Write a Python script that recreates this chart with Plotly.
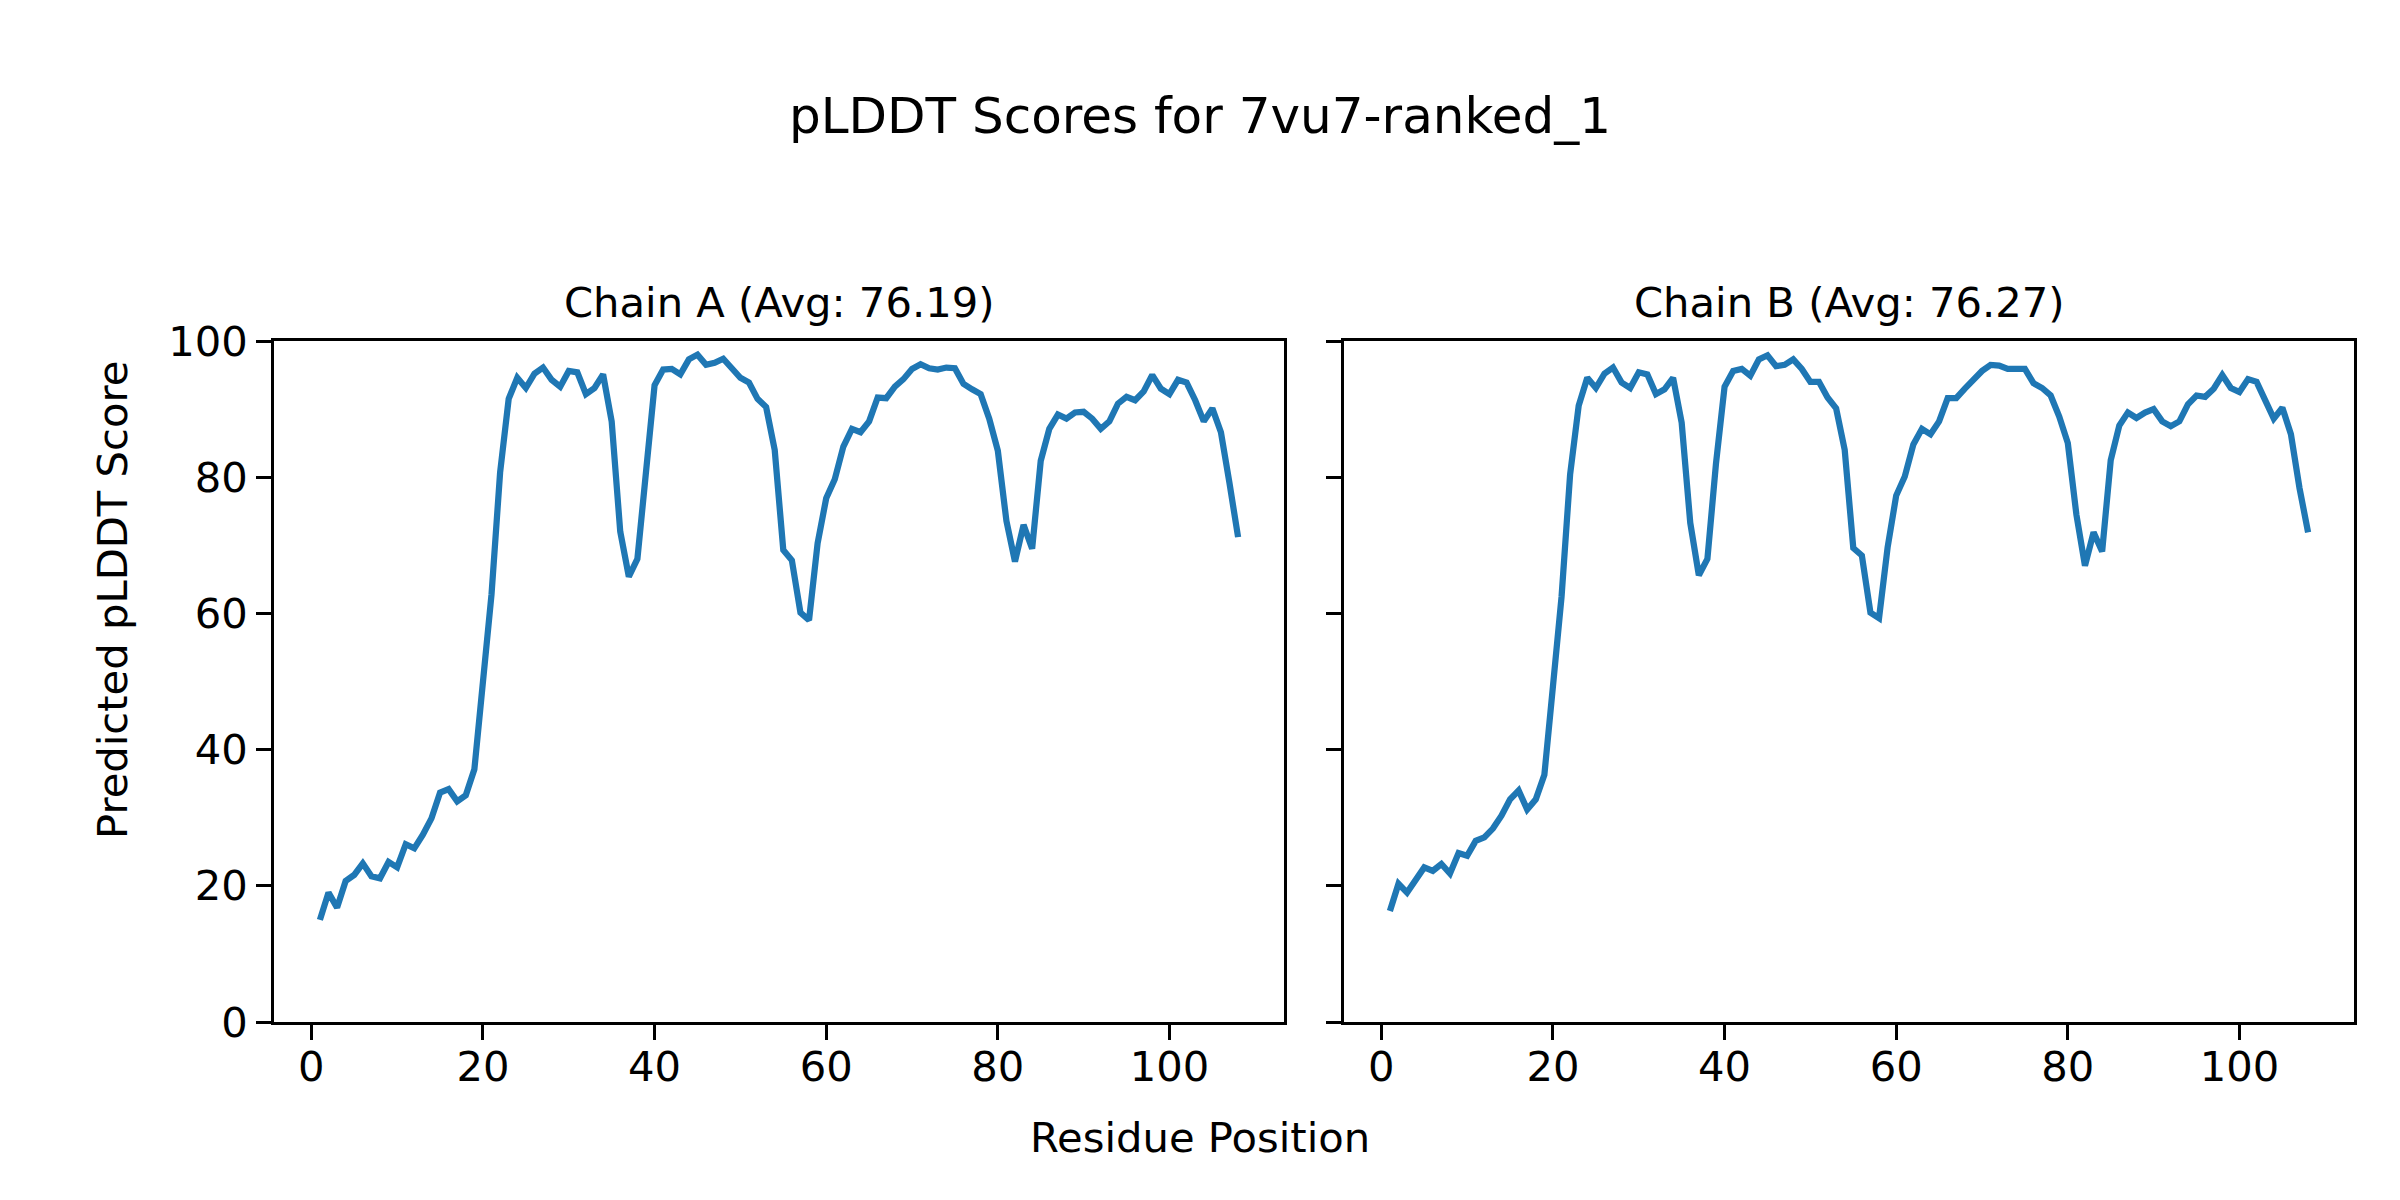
import plotly.graph_objects as go

residues = list(range(1, 109))

chain_a = [
    15.0, 19.0, 16.8, 20.7, 21.6, 23.3, 21.4, 21.1, 23.5, 22.7,
    26.1, 25.5, 27.5, 29.9, 33.7, 34.2, 32.4, 33.3, 37.1, 49.8,
    62.8, 80.7, 91.5, 94.6, 93.1, 95.2, 96.1, 94.3, 93.3, 95.6,
    95.4, 92.2, 93.1, 95.1, 88.2, 72.0, 65.4, 68.0, 82.0, 93.5,
    95.8, 95.9, 95.1, 97.3, 98.0, 96.5, 96.8, 97.4, 96.0, 94.6,
    93.9, 91.5, 90.3, 84.0, 69.3, 67.8, 60.1, 59.0, 70.3, 76.9,
    79.7, 84.5, 87.1, 86.6, 88.2, 91.7, 91.6, 93.3, 94.4, 95.9,
    96.6, 96.0, 95.8, 96.1, 96.0, 93.7, 92.9, 92.2, 88.6, 83.9,
    73.6, 67.6, 73.0, 69.5, 82.4, 87.1, 89.2, 88.6, 89.5, 89.6,
    88.6, 87.1, 88.2, 90.8, 91.8, 91.3, 92.6, 95.0, 93.0, 92.2,
    94.3, 93.9, 91.3, 88.2, 90.1, 86.6, 79.1, 71.2,
]

chain_b = [
    16.3, 20.3, 19.0, 21.0, 22.7, 22.2, 23.2, 21.8, 24.8, 24.4,
    26.6, 27.1, 28.4, 30.3, 32.7, 34.0, 31.2, 32.7, 36.3, 49.3,
    62.4, 80.4, 90.5, 94.6, 93.1, 95.2, 96.1, 93.9, 93.1, 95.4,
    95.1, 92.2, 92.9, 94.6, 88.0, 73.3, 65.6, 68.0, 82.0, 93.3,
    95.6, 95.9, 94.9, 97.3, 97.9, 96.3, 96.5, 97.3, 95.9, 94.0,
    94.0, 91.7, 90.1, 84.0, 69.6, 68.5, 60.1, 59.3, 69.7, 77.3,
    80.1, 84.8, 87.1, 86.3, 88.2, 91.6, 91.6, 93.0, 94.4, 95.6,
    96.5, 96.4, 95.9, 95.9, 95.9, 93.8, 93.1, 92.0, 88.9, 85.0,
    74.5, 67.0, 71.9, 69.1, 82.5, 87.6, 89.5, 88.7, 89.5, 90.0,
    88.2, 87.5, 88.2, 90.7, 92.0, 91.8, 93.0, 95.0, 93.1, 92.5,
    94.4, 94.0, 91.5, 88.6, 90.2, 86.3, 78.4, 71.9,
]

title_text = "pLDDT Scores for 7vu7-ranked_1"
subplot_titles = ["Chain A (Avg: 76.19)", "Chain B (Avg: 76.27)"]
x_label = "Residue Position"
y_label = "Predicted pLDDT Score"
x_ticks = [0, 20, 40, 60, 80, 100]
y_ticks = [0, 20, 40, 60, 80, 100]

W, H = 2400, 1200
OFF = 8  # page body margin offset
FONT = "DejaVu Sans"
LINE = "#1f77b4"
SP = 3.33


def px(x):
    return (x - OFF) / W


def py(y):
    return 1 - (y - OFF) / H


fig = go.Figure()
fig.add_trace(go.Scatter(x=residues, y=chain_a, mode="lines",
                         line=dict(color=LINE, width=6.25), xaxis="x", yaxis="y",
                         showlegend=False))
fig.add_trace(go.Scatter(x=residues, y=chain_b, mode="lines",
                         line=dict(color=LINE, width=6.25), xaxis="x2", yaxis="y2",
                         showlegend=False))

dY = [py(1022), py(341)]
dA = [px(274), px(1284)]
dB = [px(1344), px(2354)]

common_x = dict(range=[-4.35, 113.35], tickvals=x_ticks, showgrid=False, zeroline=False,
                showline=True, mirror=True, linecolor="black", linewidth=SP,
                ticks="outside", ticklen=14.6, tickwidth=SP, tickcolor="black",
                ticklabelstandoff=-9,
                tickfont=dict(family=FONT, size=41.7, color="black"), automargin=False)
common_y = dict(range=[0, 100], tickvals=y_ticks, showgrid=False, zeroline=False,
                showline=True, mirror=True, linecolor="black", linewidth=SP,
                ticks="outside", ticklen=14.6, tickwidth=SP, tickcolor="black",
                tickfont=dict(family=FONT, size=41.7, color="black"), automargin=False,
                domain=dY)

fig.update_layout(
    width=W, height=H,
    margin=dict(l=0, r=0, t=0, b=0),
    paper_bgcolor="white", plot_bgcolor="white",
    xaxis=dict(common_x, domain=dA, anchor="y"),
    yaxis=dict(common_y, anchor="x"),
    xaxis2=dict(common_x, domain=dB, anchor="y2"),
    yaxis2=dict(common_y, anchor="x2", showticklabels=False),
    font=dict(family=FONT, color="black"),
)

ann = [
    dict(text=title_text, x=0.5 - OFF / W, y=py(116), xanchor="center", yanchor="middle",
         font=dict(size=50)),
    dict(text=subplot_titles[0], x=(dA[0] + dA[1]) / 2, y=py(302),
         xanchor="center", yanchor="middle", font=dict(size=41.7)),
    dict(text=subplot_titles[1], x=(dB[0] + dB[1]) / 2, y=py(302),
         xanchor="center", yanchor="middle", font=dict(size=41.7)),
    dict(text=x_label, x=0.5 - OFF / W, y=py(1137), xanchor="center", yanchor="middle",
         font=dict(size=41.7)),
    dict(text=y_label, x=px(112), y=py(600), xanchor="center", yanchor="middle",
         textangle=-90, font=dict(size=41.7)),
]
for a in ann:
    a.update(xref="paper", yref="paper", showarrow=False)
    a["font"].update(family=FONT, color="black")
fig.update_layout(annotations=ann)

fig.write_html("out.html")
